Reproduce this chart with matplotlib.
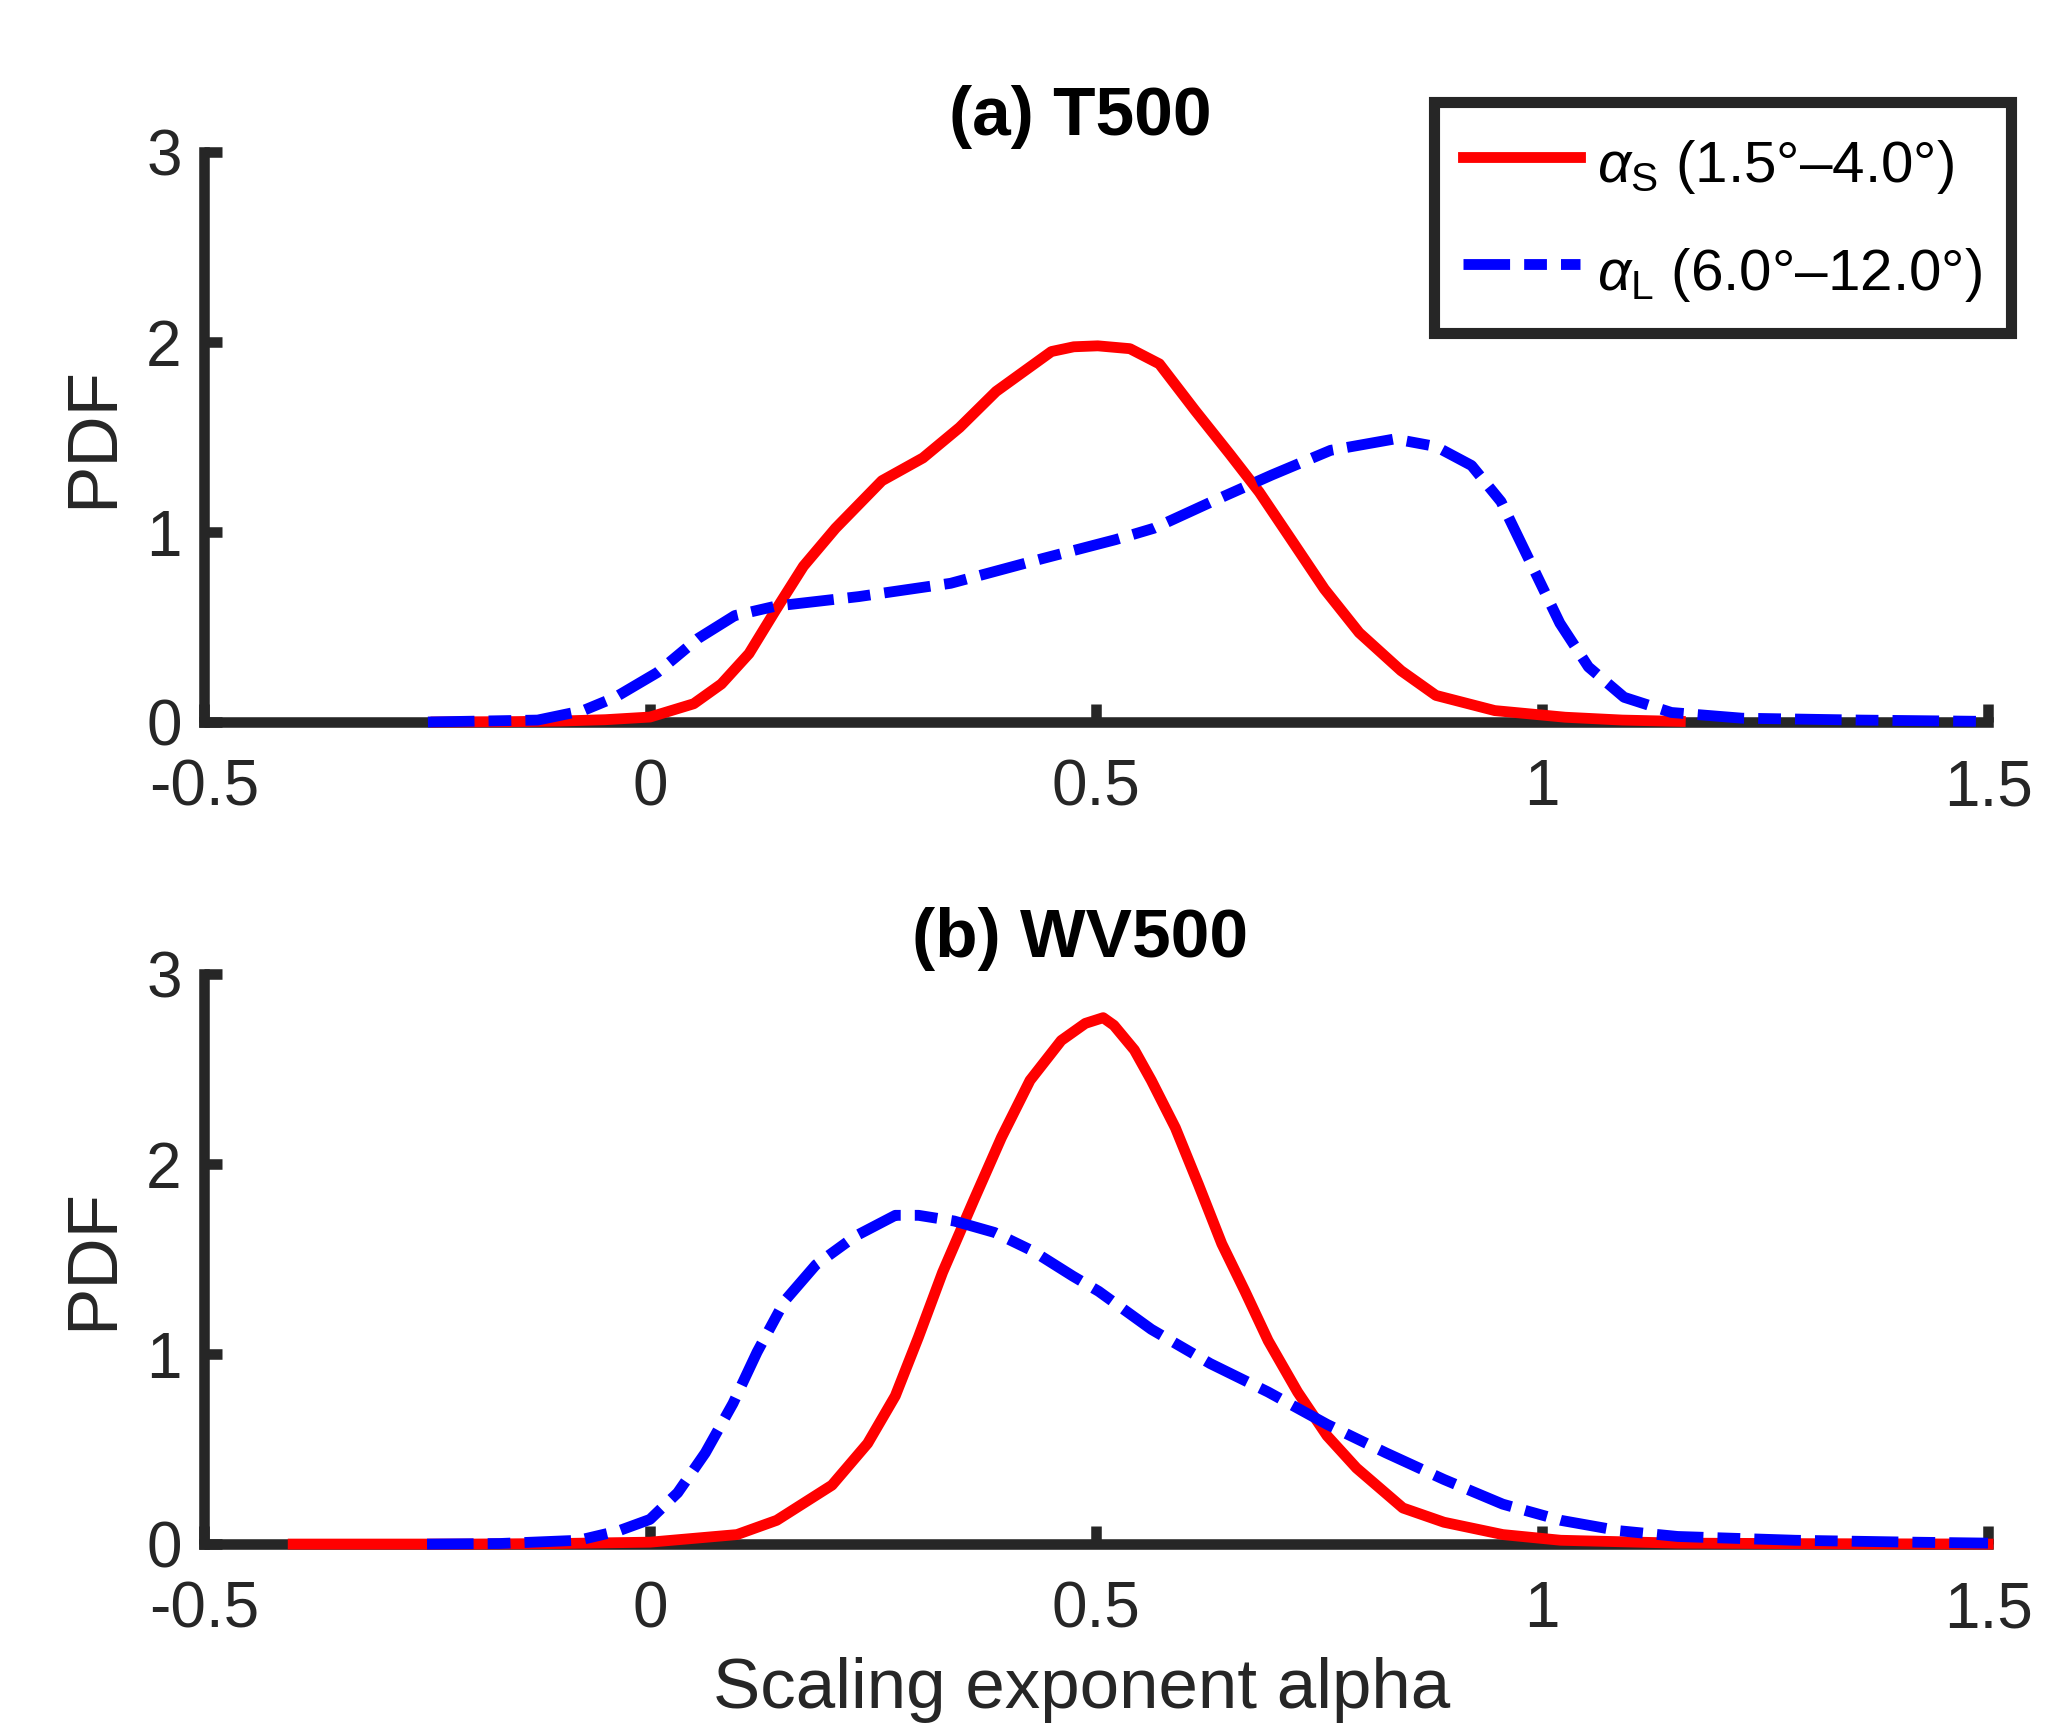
import matplotlib
matplotlib.use('Agg')
import matplotlib.pyplot as plt
import numpy as np

plt.rcParams['font.family'] = ['Liberation Sans', 'DejaVu Sans']
plt.rcParams['mathtext.fontset'] = 'custom'
plt.rcParams['mathtext.rm'] = 'Liberation Sans'
plt.rcParams['mathtext.it'] = 'Liberation Sans:italic'

# (a) T500 -- PDFs
xa_s = [-0.24, -0.15, -0.1, -0.05, 0.0, 0.049, 0.080, 0.111, 0.141, 0.172, 0.208, 0.26, 0.306,
        0.347, 0.388, 0.45, 0.475, 0.502, 0.538, 0.571, 0.611, 0.650, 0.683, 0.716, 0.756, 0.795,
        0.842, 0.881, 0.947, 1.026, 1.09, 1.155]
ya_s = [0.0, 0.002, 0.005, 0.012, 0.026, 0.096, 0.20, 0.36, 0.59, 0.82, 1.02, 1.27, 1.39,
        1.55, 1.74, 1.95, 1.975, 1.98, 1.965, 1.885, 1.64, 1.41, 1.21, 0.98, 0.70, 0.47,
        0.27, 0.14, 0.06, 0.025, 0.01, 0.003]
xa_l = [-0.249, -0.126, -0.075, -0.039, 0.008, 0.054, 0.095, 0.141, 0.234, 0.337, 0.44, 0.522,
        0.565, 0.63, 0.697, 0.763, 0.835, 0.881, 0.921, 0.954, 0.987, 1.02, 1.052, 1.092, 1.145,
        1.224, 1.356, 1.5]
ya_l = [0.0, 0.01, 0.06, 0.13, 0.26, 0.44, 0.56, 0.61, 0.66, 0.73, 0.86, 0.96,
        1.02, 1.16, 1.30, 1.43, 1.49, 1.45, 1.35, 1.16, 0.84, 0.52, 0.29, 0.13, 0.05,
        0.02, 0.01, 0.003]

# (b) WV500
xb_s = [-0.4, -0.3, -0.2, -0.1, 0.0, 0.0975, 0.142, 0.204, 0.244, 0.275, 0.301, 0.328, 0.363,
        0.394, 0.426, 0.461, 0.488, 0.508, 0.52, 0.543, 0.562, 0.589, 0.615, 0.641, 0.667, 0.693,
        0.726, 0.759, 0.792, 0.844, 0.89, 0.956, 1.021, 1.152, 1.3, 1.5]
yb_s = [0.0, 0.0, 0.0, 0.003, 0.01, 0.05, 0.125, 0.31, 0.53, 0.78, 1.09, 1.43, 1.81,
        2.14, 2.44, 2.65, 2.74, 2.77, 2.73, 2.60, 2.44, 2.19, 1.89, 1.58, 1.33, 1.07,
        0.80, 0.57, 0.40, 0.19, 0.115, 0.05, 0.02, 0.005, 0.002, 0.0]
xb_l = [-0.25, -0.168, -0.08, -0.035, 0.0, 0.031, 0.062, 0.093, 0.12, 0.151, 0.186, 0.23, 0.275,
        0.301, 0.341, 0.386, 0.43, 0.474, 0.503, 0.562, 0.628, 0.693, 0.759, 0.825, 0.89, 0.956,
        1.021, 1.087, 1.152, 1.284, 1.415, 1.5]
yb_l = [0.0, 0.003, 0.02, 0.07, 0.13, 0.27, 0.48, 0.74, 1.01, 1.28, 1.47, 1.62, 1.73,
        1.73, 1.70, 1.64, 1.54, 1.41, 1.33, 1.13, 0.95, 0.80, 0.63, 0.48, 0.34, 0.21,
        0.125, 0.07, 0.04, 0.02, 0.01, 0.005]

titles = ['(a) T500', '(b) WV500']
lab_s = r'$\alpha_{\mathrm{S}}$ (1.5°–4.0°)'
lab_l = r'$\alpha_{\mathrm{L}}$ (6.0°–12.0°)'
xticks = [-0.5, 0, 0.5, 1, 1.5]
xticklabels = ['-0.5', '0', '0.5', '1', '1.5']
yticks = [0, 1, 2, 3]

axcol = '#262626'
fig = plt.figure(figsize=(10.335, 8.63), dpi=200)
ax1 = fig.add_axes([0.0987, 0.5817, 0.8631, 0.3302])
ax2 = fig.add_axes([0.0987, 0.1054, 0.8631, 0.3303])

data = [(xa_s, ya_s, xa_l, ya_l), (xb_s, yb_s, xb_l, yb_l)]
for ax, (xs, ys, xl, yl), ttl in zip([ax1, ax2], data, titles):
    ax.plot(xs, ys, color='red', lw=3.9, zorder=3, clip_on=False, label=lab_s)
    ax.plot(xl, yl, color='blue', lw=3.9, zorder=4, clip_on=False, label=lab_l,
            linestyle=(0, (4.3, 1.3, 2.1, 1.3)), dash_capstyle='butt')
    ax.set_xlim(-0.5, 1.5)
    ax.set_ylim(0, 3)
    ax.set_xticks(xticks)
    ax.set_xticklabels(xticklabels)
    ax.set_yticks(yticks)
    for s in ['top', 'right']:
        ax.spines[s].set_visible(False)
    for s in ['left', 'bottom']:
        ax.spines[s].set_linewidth(3.8)
        ax.spines[s].set_color(axcol)
    ax.tick_params(direction='in', length=6.5, width=3.8, color=axcol, labelcolor=axcol,
                   labelsize=23)
    ax.tick_params(axis='x', pad=13)
    ax.tick_params(axis='y', pad=8)
    ax.set_ylabel('PDF', fontsize=25.5, color=axcol, labelpad=7)
    ax.set_title(ttl, fontsize=25, fontweight='bold', x=0.491, pad=6)

ax2.set_xlabel('Scaling exponent alpha', fontsize=25.5, color=axcol, labelpad=6, x=0.492)

leg = ax1.legend(loc='upper right', bbox_to_anchor=(0.973, 0.941),
                 bbox_transform=fig.transFigure, fontsize=21, frameon=True,
                 fancybox=False, framealpha=1, edgecolor=axcol, borderaxespad=0,
                 handlelength=2.0, handleheight=1.3, handletextpad=0.3,
                 labelspacing=0.72, borderpad=0.5)
leg.get_frame().set_linewidth(4)
for t in leg.get_texts():
    t.set_color('black')

fig.savefig('out.png', dpi=200)
